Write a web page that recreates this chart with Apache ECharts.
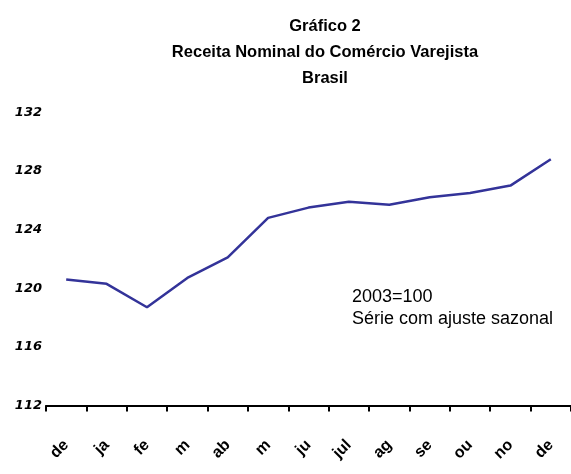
<!DOCTYPE html>
<html><head><meta charset="utf-8">
<script src="https://cdn.jsdelivr.net/npm/echarts@6/dist/echarts.min.js"></script>
<style>html,body{margin:0;padding:0;background:#fff}#c{width:571px;height:474px}</style>
</head><body><div id="c"></div>
<script>
const titleLines = ['Gráfico 2', 'Receita Nominal do Comércio Varejista', 'Brasil'];
const noteLines = ['2003=100', 'Série com ajuste sazonal'];
const months = ['dez', 'jan', 'fev', 'mar', 'abr', 'mai', 'jun', 'jul', 'ago', 'set', 'out', 'nov', 'dez'];
const receita = [120.6, 120.3, 118.7, 120.7, 122.1, 124.8, 125.5, 125.9, 125.7, 126.2, 126.5, 127.0, 128.8];
const yMin = 112, yMax = 132, yStep = 4;

const sans = '"Liberation Sans",Arial,sans-serif';
const chart = echarts.init(document.getElementById('c'), null, {renderer: 'canvas'});
chart.setOption({
  animation: false,
  backgroundColor: '#fff',
  title: {
    text: titleLines.join('\n'),
    left: 320, top: 8, textAlign: 'center',
    textStyle: {fontFamily: sans, fontWeight: 'bold', fontSize: 16.5, lineHeight: 26, color: '#000'}
  },
  graphic: [{
    type: 'text', left: 352, top: 286,
    style: {text: noteLines.join('\n'), fontFamily: sans, fontSize: 18, lineHeight: 22, fill: '#000'}
  }],
  grid: {left: 46, right: -7, top: 112.3, bottom: 68.5, containLabel: false},
  xAxis: {
    type: 'category', data: months, boundaryGap: true,
    axisLine: {lineStyle: {color: '#000', width: 2}},
    axisTick: {show: true, inside: false, length: 6, lineStyle: {color: '#000', width: 2}, alignWithLabel: false},
    axisLabel: {
      rotate: 45, margin: 37, interval: 0, color: '#000',
      fontFamily: sans, fontWeight: 'bold', fontSize: 16,
      width: 22.5, overflow: 'truncate', ellipsis: ''
    },
    splitLine: {show: false}
  },
  yAxis: {
    type: 'value', min: yMin, max: yMax, interval: yStep,
    axisLine: {show: false}, axisTick: {show: false}, splitLine: {show: false},
    axisLabel: {margin: 4, color: '#000', fontFamily: '"DejaVu Sans",sans-serif', fontWeight: 'bold', fontStyle: 'italic', fontSize: 13}
  },
  series: [{
    type: 'line', data: receita, symbol: 'none',
    lineStyle: {color: '#333399', width: 2.5}
  }]
});
</script></body></html>
